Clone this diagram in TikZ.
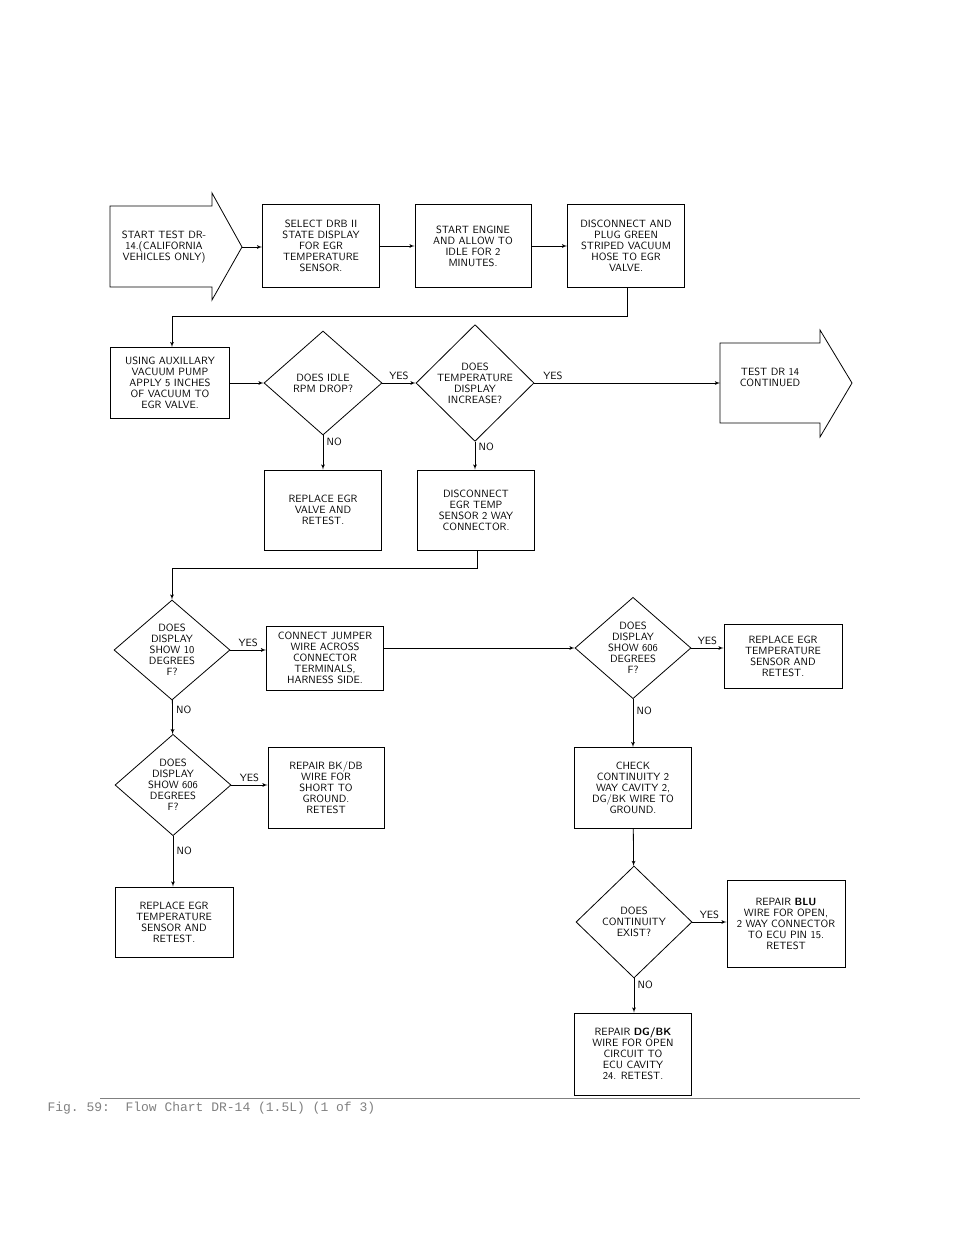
\documentclass[tikz,border=0pt]{standalone}
\usepackage{fontspec}
\setmonofont{Liberation Mono}
\usetikzlibrary{shapes,arrows,positioning}
\tikzstyle{block} = [rectangle, draw, thick, align=center, inner sep=2pt, font=\sffamily\fontsize{10.5}{11}\selectfont]
\tikzstyle{decision} = [diamond, draw, thick, align=center, inner sep=0pt, font=\sffamily\fontsize{10.5}{11}\selectfont]
\tikzstyle{arrowtext} = [align=center, inner sep=0pt, font=\sffamily\fontsize{10.5}{11}\selectfont]
\tikzstyle{line} = [draw, thick, -latex']
\tikzstyle{lbl} = [font=\sffamily\fontsize{10.5}{11}\selectfont]

\begin{document}
\begin{tikzpicture}[x=1pt, y=-1pt]
    \useasboundingbox (0,0) rectangle (960,1242);
    % Place nodes
    \draw [thick] (110,206) -- (212,206) -- (212,193) -- (242,247) coordinate (starttip) -- (212,300) -- (212,287) -- (110,287) -- cycle;
    \node [arrowtext] (start) at (164,247) {START TEST DR-\\14.(CALIFORNIA\\VEHICLES ONLY)};
    \node [block, minimum width=117pt, minimum height=83pt] (select) at (321,246) {SELECT DRB II\\STATE DISPLAY\\FOR EGR\\TEMPERATURE\\SENSOR.};
    \node [block, minimum width=116pt, minimum height=83pt] (engine) at (473,246) {START ENGINE\\AND ALLOW TO\\IDLE FOR 2\\MINUTES.};
    \node [block, minimum width=117pt, minimum height=83pt] (plug) at (626,246) {DISCONNECT AND\\PLUG GREEN\\STRIPED VACUUM\\HOSE TO EGR\\VALVE.};
    \node [block, minimum width=119pt, minimum height=71pt] (pump) at (170,383) {USING AUXILLARY\\VACUUM PUMP\\APPLY 5 INCHES\\OF VACUUM TO\\EGR VALVE.};
    \node [decision, minimum width=118pt, minimum height=104pt] (rpm) at (323,383) {DOES IDLE\\RPM DROP?};
    \node [decision, minimum width=118pt, minimum height=104pt] (temp) at (475,383) {DOES\\TEMPERATURE\\DISPLAY\\INCREASE?};
    \draw [thick] (720,343) coordinate (conttail) -- (820,343) -- (820,330) -- (852,383) -- (820,437) -- (820,423) -- (720,423) -- cycle;
    \node [arrowtext] (cont) at (770,377) {TEST DR 14\\CONTINUED};
    \node [block, minimum width=117pt, minimum height=80pt] (valve) at (323,510) {REPLACE EGR\\VALVE AND\\RETEST.};
    \node [block, minimum width=117pt, minimum height=80pt] (unplug) at (476,510) {DISCONNECT\\EGR TEMP\\SENSOR 2 WAY\\CONNECTOR.};
    \node [decision, minimum width=116pt, minimum height=100pt] (ten) at (172,650) {DOES\\DISPLAY\\SHOW 10\\DEGREES\\F?};
    \node [block, minimum width=117pt, minimum height=64pt] (jumper) at (325,658) {CONNECT JUMPER\\WIRE ACROSS\\CONNECTOR\\TERMINALS,\\HARNESS SIDE.};
    \node [decision, minimum width=116pt, minimum height=100pt] (hiA) at (633,648) {DOES\\DISPLAY\\SHOW 606\\DEGREES\\F?};
    \node [block, minimum width=118pt, minimum height=64pt] (sensorA) at (783,656) {REPLACE EGR\\TEMPERATURE\\SENSOR AND\\RETEST.};
    \node [decision, minimum width=116pt, minimum height=100pt] (hiB) at (173,785) {DOES\\DISPLAY\\SHOW 606\\DEGREES\\F?};
    \node [block, minimum width=116pt, minimum height=81pt] (short) at (326,788) {REPAIR BK/DB\\WIRE FOR\\SHORT TO\\GROUND.\\RETEST};
    \node [block, minimum width=118pt, minimum height=70pt] (sensorB) at (174,922) {REPLACE EGR\\TEMPERATURE\\SENSOR AND\\RETEST.};
    \node [block, minimum width=117pt, minimum height=81pt] (check) at (633,788) {CHECK\\CONTINUITY 2\\WAY CAVITY 2,\\DG/BK WIRE TO\\GROUND.};
    \node [decision, minimum width=116pt, minimum height=112pt] (exist) at (634,922) {DOES\\CONTINUITY\\EXIST?};
    \node [block, minimum width=118pt, minimum height=87pt] (blu) at (786,924) {REPAIR \textbf{BLU}\\WIRE FOR OPEN,\\2 WAY CONNECTOR\\TO ECU PIN 15.\\RETEST};
    \node [block, minimum width=117pt, minimum height=82pt] (dgbk) at (633,1054) {REPAIR \textbf{DG/BK}\\WIRE FOR OPEN\\CIRCUIT TO\\ECU CAVITY\\24. RETEST.};
    \coordinate (plugbend) at (627,316);
    \coordinate (pumpbend) at (172,316);
    \coordinate (unplugbend) at (477,568);
    \coordinate (tenbend) at (172,568);

    % Draw edges
    \path [line] (starttip) -- (select.west |- starttip);
    \path [line] (select) -- (engine);
    \path [line] (engine) -- (plug);
    \path [line] (plug.south -| plugbend) -- (plugbend) -- (pumpbend) -- (pump.north -| pumpbend);
    \path [line] (pump) -- (rpm);
    \path [line] (rpm) -- node[lbl, above] {YES} (temp);
    \path [line] (temp.east) -- node[lbl, above, pos=0.1] {YES} (temp.east -| conttail);
    \path [line] (rpm) -- node[lbl, right, pos=0.2] {NO} (valve);
    \path [line] (temp) -- node[lbl, right, pos=0.2] {NO} (unplug.north -| temp);
    \path [line] (unplug.south -| unplugbend) -- (unplugbend) -- (tenbend) -- (ten.north);
    \path [line] (ten.east) -- node[lbl, above] {YES} (ten.east -| jumper.west);
    \path [line] (jumper.east |- hiA.west) -- (hiA.west);
    \path [line] (hiA.east) -- node[lbl, above] {YES} (hiA.east -| sensorA.west);
    \path [line] (ten) -- node[lbl, right, pos=0.3] {NO} (hiB);
    \path [line] (hiB.east) -- node[lbl, above] {YES} (hiB.east -| short.west);
    \path [line] (hiB) -- node[lbl, right, pos=0.3] {NO} (sensorB.north -| hiB);
    \path [line] (hiA) -- node[lbl, right, pos=0.25] {NO} (check.north -| hiA);
    \path [line] (check) -- (exist);
    \path [line] (exist.east) -- node[lbl, above] {YES} (exist.east -| blu.west);
    \path [line] (exist) -- node[lbl, right, pos=0.2] {NO} (dgbk.north -| exist);

    \draw [thin, gray] (100,1098) coordinate (rulea) -- (860,1098) coordinate (ruleb);
    \node [anchor=west, text=gray, font=\ttfamily\fontsize{13}{14}\selectfont] (caption) at (44,1108) {Fig. 59:\ \ Flow Chart DR-14 (1.5L) (1 of 3)};
\end{tikzpicture}
\end{document}
